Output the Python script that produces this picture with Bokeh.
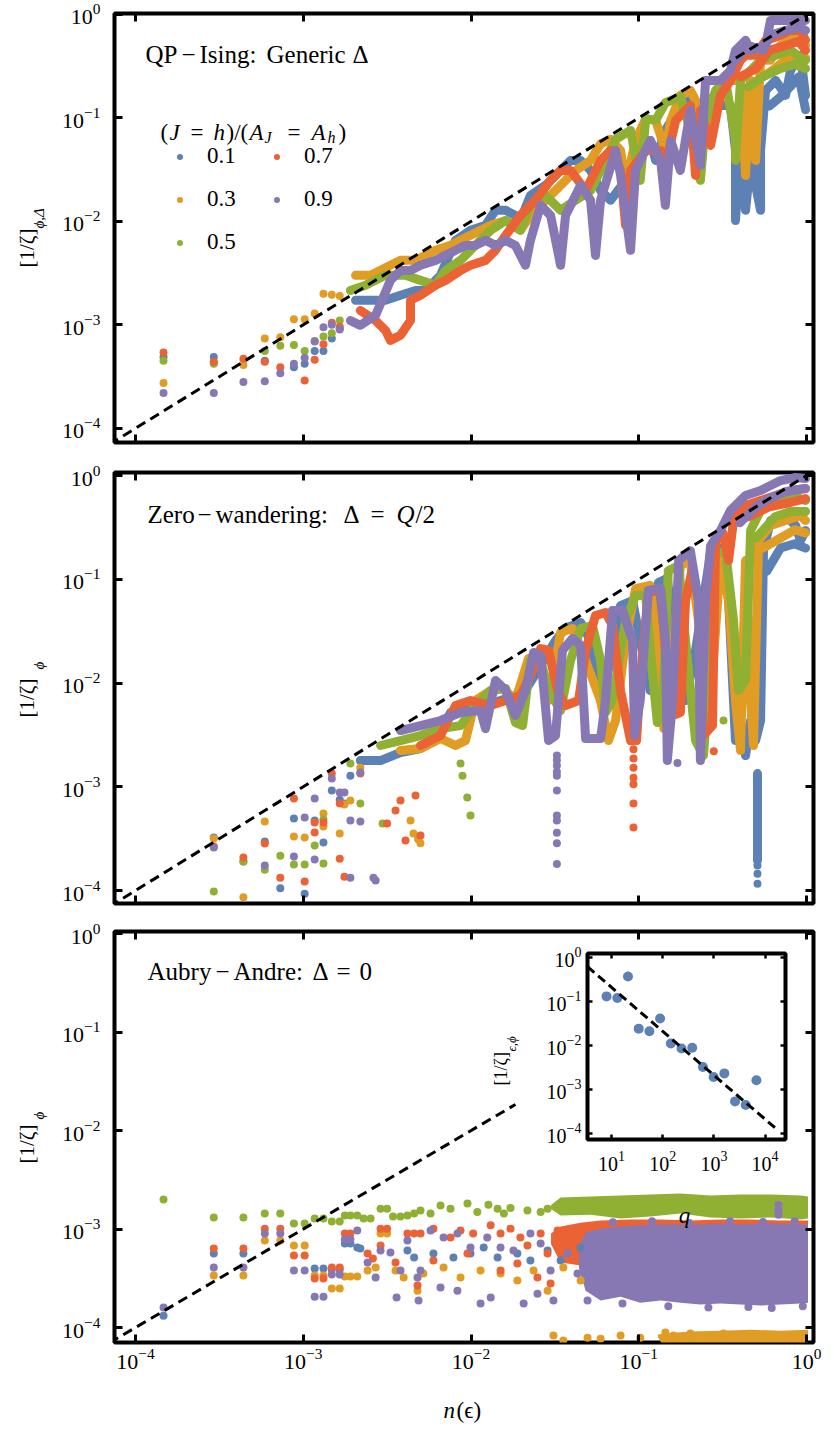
import math
import numpy as np
from bokeh.plotting import figure
from bokeh.layouts import column
from bokeh.models import LogAxis, FixedTicker, Label, Legend, LegendItem, Range1d, CustomJSTickFormatter
from bokeh.embed import file_html
from bokeh.resources import INLINE

NAN = float("nan")
SERIF = "Liberation Serif"

# ------------------------------------------------------------------ data
series_labels = ["0.1", "0.3", "0.5", "0.7", "0.9"]
series_colors = ["#5E81B5", "#E19C24", "#8FB032", "#EB6235", "#8778B3"]
decade_ticks = [1e-4, 1e-3, 1e-2, 1e-1, 1e0]
inset_x_ticks = [1e1, 1e2, 1e3, 1e4]

guide_x = [7.0e-5, 1.0]
guide_y = [7.0e-5, 1.0]
guide3_x = [7.0e-5, 1.84e-2]
guide3_y = [7.0e-5, 1.84e-2]

# ---- panel 1 : QP-Ising generic Delta  (x = n(eps), y = [1/zeta])
p1_blue_dots = [(1.47e-4,4.9e-4),(2.93e-4,4.9e-4),(5.9e-4,4.5e-4),(8.8e-4,3.9e-4),(1.02e-3,4.2e-4),
                (1.17e-3,5.6e-4),(1.32e-3,5.6e-4),(1.48e-3,7.4e-4),(1.65e-3,9.3e-4)]
p1_orange_dots = [(1.47e-4,2.75e-4),(2.93e-4,4.3e-4),(4.4e-4,4.1e-4),(5.9e-4,7.4e-4),(7.3e-4,7.6e-4),
                  (8.8e-4,1.13e-3),(1.02e-3,1.13e-3),(1.17e-3,1.29e-3),(1.32e-3,2.0e-3),(1.48e-3,1.95e-3),(1.65e-3,1.9e-3)]
p1_green_dots = [(1.47e-4,4.5e-4),(2.93e-4,4.2e-4),(5.9e-4,5.6e-4),(7.3e-4,6.3e-4),(8.8e-4,6.4e-4),
                 (1.02e-3,5.6e-4),(1.17e-3,7.0e-4),(1.32e-3,7.7e-4),(1.48e-3,8.3e-4),(1.65e-3,1.1e-3)]
p1_red_dots = [(1.47e-4,5.4e-4),(2.93e-4,4.4e-4),(4.4e-4,4.7e-4),(5.9e-4,4.4e-4),(7.3e-4,3.9e-4),
               (1.02e-3,2.9e-4),(1.17e-3,4.6e-4),(1.32e-3,6.5e-4),(1.48e-3,1.05e-3),(1.65e-3,9.6e-4)]
p1_purple_dots = [(1.47e-4,2.2e-4),(2.93e-4,2.2e-4),(4.4e-4,2.8e-4),(5.9e-4,2.85e-4),(7.3e-4,3.4e-4),
                  (8.8e-4,4.2e-4),(1.02e-3,4.8e-4),(1.17e-3,6.9e-4),(1.32e-3,9.5e-4),(1.48e-3,1.0e-3),(1.65e-3,9.0e-4)]

p1_blue_trace = [(2.05e-3,1.73e-3),(2.52e-3,1.73e-3),(3.09e-3,1.73e-3),(3.8e-3,1.93e-3),(4.67e-3,2.15e-3),
                 (5.36e-3,2.15e-3),(6.58e-3,3.01e-3),(8.09e-3,6.55e-3),(9.93e-3,8.2e-3),(1.22e-2,9.15e-3),
                 (1.40e-2,1.28e-2),(1.61e-2,1.28e-2),(1.84e-2,1.14e-2),(1.97e-2,1.02e-2),(2.26e-2,1.78e-2),
                 (2.78e-2,2.23e-2),(3.42e-2,3.11e-2),(3.92e-2,3.88e-2),(4.5e-2,3.88e-2),(5.16e-2,3.11e-2),
                 (5.92e-2,1.99e-2),(6.79e-2,1.6e-2),(8.34e-2,2.49e-2),(0.102,5.42e-2),(0.117,6.06e-2),
                 (0.126,3.88e-2),(0.144,7.57e-2),(0.177,0.132),(0.203,0.148),(0.233,0.118),(0.287,0.132),
                 (0.352,0.132),(0.377,4.85e-2),(0.377,1.02e-2),(0.404,4.85e-2),(0.433,1.28e-2),(0.464,3.88e-2),
                 (0.532,1.28e-2),(0.532,4.85e-2),(0.570,0.184),(0.654,0.23),(0.750,0.165),(0.803,0.288),
                 (0.921,0.402),(0.986,0.165),
                 (NAN,NAN),(0.6,0.13),(0.7,0.16),(0.8,0.2),(0.9,0.25),(0.986,0.12)]
p1_orange_trace = [(2.05e-3,3.01e-3),(2.52e-3,3.01e-3),(3.31e-3,3.76e-3),(3.8e-3,4.2e-3),(4.67e-3,4.2e-3),
                   (6.14e-3,5.25e-3),(7.55e-3,5.86e-3),(9.93e-3,7.33e-3),(1.31e-2,9.15e-3),(1.61e-2,1.02e-2),
                   (1.97e-2,8.2e-3),(2.26e-2,1.14e-2),(2.78e-2,1.6e-2),(3.42e-2,2.23e-2),(4.2e-2,3.11e-2),
                   (5.16e-2,3.88e-2),(5.92e-2,5.6e-2),(6.79e-2,6.2e-2),(7.79e-2,4.85e-2),(8.34e-2,2.23e-2),
                   (9.57e-2,6.06e-2),(0.110,0.098),(0.126,9.46e-2),(0.144,4.85e-2),(0.155,9.46e-2),
                   (0.177,0.165),(0.203,0.184),(0.218,0.148),(0.250,7.57e-2),(0.268,0.148),(0.307,0.206),
                   (0.352,0.23),(0.404,0.23),(0.433,2.78e-2),(0.464,0.23),(0.497,3.88e-2),(0.532,0.36),
                   (0.610,0.36),(0.700,0.502),(0.803,0.561),(0.921,0.627),(0.986,0.502),
                   (NAN,NAN),(0.55,0.25),(0.65,0.3),(0.8,0.4),(0.986,0.38)]
p1_green_trace = [(1.91e-3,2.15e-3),(2.35e-3,2.41e-3),(3.09e-3,3.01e-3),(4.07e-3,3.01e-3),(5.0e-3,2.69e-3),
                  (6.14e-3,2.41e-3),(7.05e-3,3.36e-3),(8.66e-3,4.2e-3),(1.06e-2,5.86e-3),(1.31e-2,8.2e-3),
                  (1.61e-2,1.02e-2),(1.97e-2,8.2e-3),(2.26e-2,1.43e-2),(2.78e-2,1.78e-2),(3.42e-2,1.28e-2),
                  (4.2e-2,1.6e-2),(5.16e-2,1.99e-2),(5.92e-2,3.11e-2),(7.27e-2,6.2e-2),(8.93e-2,7.57e-2),
                  (0.102,2.49e-2),(0.110,0.098),(0.126,9.46e-2),(0.144,0.14),(0.177,0.16),(0.203,7.57e-2),
                  (0.233,2.49e-2),(0.250,9.46e-2),(0.287,0.184),(0.329,0.23),(0.377,6.06e-2),(0.377,3.88e-2),
                  (0.404,0.23),(0.464,0.288),(0.532,0.36),(0.654,0.402),(0.803,0.449),(0.986,0.36),
                  (NAN,NAN),(0.45,0.2),(0.55,0.25),(0.7,0.3),(0.85,0.33),(0.986,0.3)]
p1_red_trace = [(2.19e-3,1.38e-3),(2.7e-3,1.1e-3),(3.09e-3,8.85e-4),(3.31e-3,7.08e-4),(3.8e-3,7.92e-4),
                (4.36e-3,1.1e-3),(4.36e-3,1.73e-3),(5.0e-3,1.93e-3),(6.14e-3,2.41e-3),(7.05e-3,2.69e-3),
                (8.66e-3,3.36e-3),(9.93e-3,3.76e-3),(1.22e-2,4.2e-3),(1.40e-2,5.25e-3),(1.61e-2,7.33e-3),
                (1.97e-2,1.14e-2),(2.42e-2,1.6e-2),(2.98e-2,2.49e-2),(3.42e-2,3.11e-2),(3.92e-2,3.11e-2),
                (4.82e-2,1.99e-2),(5.92e-2,3.88e-2),(6.79e-2,4.85e-2),(7.79e-2,3.11e-2),(8.34e-2,9.15e-3),
                (8.93e-2,3.11e-2),(0.110,4.85e-2),(0.135,4.85e-2),(0.144,3.48e-2),(0.166,9.46e-2),
                (0.203,0.132),(0.218,2.78e-2),(0.233,0.118),(0.268,5.42e-2),(0.307,0.165),(0.352,0.23),
                (0.404,0.36),(0.433,0.402),(0.497,0.402),(0.570,0.561),(0.700,0.627),(0.803,0.70),
                (0.921,0.70),(0.986,0.561),
                (NAN,NAN),(0.404,0.25),(0.5,0.3),(0.6,0.45),(0.75,0.5),(0.9,0.55),(0.986,0.45)]
p1_purple_trace = [(1.91e-3,1.1e-3),(2.19e-3,9.9e-4),(2.7e-3,1.24e-3),(3.31e-3,2.69e-3),(3.8e-3,3.36e-3),
                   (4.36e-3,3.36e-3),(5.0e-3,3.76e-3),(6.14e-3,4.2e-3),(7.05e-3,4.69e-3),(8.09e-3,5.25e-3),
                   (9.27e-3,5.86e-3),(1.06e-2,5.86e-3),(1.22e-2,6.55e-3),(1.40e-2,5.86e-3),(1.61e-2,6.55e-3),
                   (1.84e-2,5.86e-3),(2.11e-2,3.76e-3),(2.26e-2,6.55e-3),(2.60e-2,1.43e-2),(2.98e-2,1.14e-2),
                   (3.42e-2,3.76e-3),(3.66e-2,1.14e-2),(4.5e-2,2.23e-2),(5.16e-2,1.6e-2),(5.52e-2,4.69e-3),
                   (5.92e-2,1.6e-2),(7.27e-2,4.85e-2),(7.79e-2,2.78e-2),(8.93e-2,5.25e-3),(9.57e-2,3.11e-2),
                   (0.117,6.06e-2),(0.135,3.88e-2),(0.144,1.43e-2),(0.155,6.06e-2),(0.177,3.11e-2),
                   (0.203,0.118),(0.233,3.48e-2),(0.250,0.23),(0.307,0.23),(0.352,0.288),(0.377,0.449),
                   (0.433,0.561),(0.464,0.449),(0.570,0.502),(0.610,0.875),(0.803,0.875),(0.986,0.875),
                   (NAN,NAN),(0.377,0.36),(0.45,0.5),(0.55,0.45),(0.61,0.63),(0.75,0.70),(0.9,0.75),(0.986,0.7)]

# ---- panel 2 : zero-wandering, Delta = Q/2
p2_blue_dots = [(2.93e-4,3.24e-4),(4.4e-4,1.9e-4),(5.9e-4,2.97e-4),(7.3e-4,1.05e-4),(8.8e-4,4.94e-4),
                (1.02e-3,9.3e-5),(1.17e-3,4.73e-4),(1.32e-3,2.9e-4),(1.48e-3,9.2e-4),(1.65e-3,7.5e-4),
                (1.76e-3,6.9e-4),(1.91e-3,1.28e-3),(2.19e-3,1.79e-3),(0.51,1.74e-4),(0.51,1.45e-4),(0.51,1.16e-4)]
p2_orange_dots = [(2.93e-4,3.17e-4),(4.4e-4,8.6e-5),(5.9e-4,4.62e-4),(8.8e-4,3.31e-4),(1.02e-3,3.24e-4),
                  (1.32e-3,5.52e-4),(1.32e-3,4.14e-4),(1.65e-3,3.55e-4),(1.76e-3,6.75e-4),(1.91e-3,7.37e-4),
                  (2.19e-3,1.53e-3),(4.36e-3,4.73e-4),(4.54e-3,3.55e-4),(4.84e-3,3.12e-4),(5.0e-3,2.85e-4)]
p2_green_dots = [(2.93e-4,9.8e-5),(4.4e-4,1.9e-4),(5.9e-4,1.59e-4),(7.3e-4,2.17e-4),(8.8e-4,1.78e-4),
                 (1.02e-3,1.78e-4),(1.17e-3,2.72e-4),(1.32e-3,4.83e-4),(1.32e-3,1.82e-4),(1.91e-3,1.68e-3),
                 (2.19e-3,6.9e-4),(2.97e-3,4.43e-4),(8.66e-3,1.68e-3),(8.9e-3,1.28e-3),(9.5e-3,7.9e-4),
                 (9.93e-3,5.28e-4),(0.233,2.1e-3),(0.32,4.35e-3)]
p2_red_dots = [(2.93e-4,2.66e-4),(4.4e-4,2.08e-4),(5.9e-4,2.84e-4),(7.3e-4,1.33e-4),(8.8e-4,7.7e-4),
               (1.02e-3,1.22e-4),(1.17e-3,4.52e-4),(1.17e-3,3.62e-4),(1.32e-3,4.52e-4),(1.48e-3,1.34e-3),
               (1.65e-3,6.9e-4),(1.65e-3,2.03e-4),(1.76e-3,1.36e-4),(2.19e-3,1.34e-3),(3.16e-3,4.43e-4),
               (3.55e-3,5.9e-4),(4.07e-3,3.03e-4),(5.0e-3,3.39e-4),(3.8e-3,7.37e-4),(4.67e-3,8.24e-4),
               (9.3e-2,2.3e-3),(9.3e-2,1.87e-3),(9.3e-2,1.53e-3),(9.3e-2,1.22e-3),(9.3e-2,1.06e-3),
               (9.3e-2,6.9e-4),(9.3e-2,4.05e-4),(0.28,2.2e-3)]
p2_purple_dots = [(2.93e-4,2.6e-4),(5.9e-4,1.74e-4),(8.8e-4,2.13e-4),(1.02e-3,5.06e-4),(1.17e-3,1.99e-4),
                  (1.17e-3,7.7e-4),(1.48e-3,1.2e-3),(1.65e-3,8.8e-4),(1.76e-3,8.8e-4),(1.91e-3,4.73e-4),
                  (1.91e-3,1.33e-4),(2.19e-3,1.37e-3),(2.19e-3,4.62e-4),(2.62e-3,1.33e-4),(2.7e-3,1.25e-4),
                  (3.25e-2,2.0e-3),(3.25e-2,1.8e-3),(3.25e-2,1.6e-3),(3.25e-2,1.4e-3),(3.25e-2,1.28e-3),
                  (3.25e-2,9.2e-4),(3.25e-2,5.28e-4),(3.25e-2,4.73e-4),(3.25e-2,3.6e-4),(3.25e-2,2.85e-4),
                  (3.25e-2,1.8e-4),(0.17,1.7e-3)]

p2_blue_trace = [(2.19e-3,1.79e-3),(2.89e-3,1.79e-3),(3.8e-3,2.14e-3),(5.0e-3,2.34e-3),(6.14e-3,2.79e-3),
                 (7.55e-3,5.2e-3),(9.27e-3,6.07e-3),(1.22e-2,6.07e-3),(1.5e-2,6.78e-3),(1.84e-2,7.58e-3),
                 (2.11e-2,8.47e-3),(2.6e-2,1.48e-2),(3.19e-2,2.57e-2),(3.66e-2,3.4e-2),(4.5e-2,3.83e-2),
                 (5.16e-2,2.57e-2),(5.92e-2,6.78e-3),(6.79e-2,1.65e-2),(7.79e-2,5.58e-2),(9.18e-2,6.24e-2),
                 (0.102,2.57e-2),(0.117,8.47e-3),(0.131,9.3e-2),(0.148,0.102),(0.166,2.06e-2),(0.190,6.78e-3),
                 (0.218,2.06e-2),(0.268,0.181),(0.307,0.198),(0.343,6.24e-2),(0.377,2.79e-3),(0.404,4.35e-3),
                 (0.433,2.0e-3),(0.464,4.35e-3),(0.497,2.79e-3),(0.532,4.35e-3),(0.554,0.189),(0.61,0.368),
                 (0.75,0.412),(0.86,0.33),(0.921,0.236),(0.986,0.295),(NAN,NAN),(0.51,1.34e-3),(0.51,1.95e-4),
                 (NAN,NAN),(0.58,0.12),(0.7,0.2),(0.85,0.22),(0.986,0.2)]
p2_orange_trace = [(3.8e-3,2.24e-3),(5.0e-3,2.34e-3),(6.58e-3,2.92e-3),(8.09e-3,2.5e-3),(9.27e-3,2.79e-3),
                   (1.06e-2,6.78e-3),(1.31e-2,8.47e-3),(1.5e-2,9.46e-3),(1.84e-2,6.78e-3),(2.2e-2,1.72e-2),
                   (2.53e-2,1.84e-2),(2.9e-2,6.78e-3),(3.42e-2,3.07e-2),(4.03e-2,3.35e-2),(4.82e-2,1.65e-2),
                   (5.92e-2,6.78e-3),(6.6e-2,2.79e-3),(7.27e-2,4.35e-3),(8.34e-2,2.57e-2),(9.57e-2,8.14e-2),
                   (0.117,8.71e-2),(0.129,2.06e-2),(0.141,3.64e-3),(0.155,1.06e-2),(0.177,0.136),(0.203,0.152),
                   (0.227,4.0e-2),(0.268,6.78e-3),(0.307,0.152),(0.343,6.24e-2),(0.377,6.78e-3),(0.404,2.24e-3),
                   (0.433,0.152),(0.464,6.78e-3),(0.483,2.5e-3),(0.518,0.236),(0.61,0.33),(0.75,0.368),
                   (0.921,0.412),(0.986,0.368),
                   (NAN,NAN),(0.55,0.2),(0.7,0.25),(0.85,0.3),(0.986,0.28)]
p2_green_trace = [(2.89e-3,2.5e-3),(3.8e-3,2.79e-3),(5.0e-3,3.12e-3),(6.58e-3,3.64e-3),(8.66e-3,3.89e-3),
                  (1.06e-2,6.07e-3),(1.31e-2,8.47e-3),(1.61e-2,8.85e-3),(1.84e-2,4.16e-3),(2.03e-2,3.89e-3),
                  (2.26e-2,1.65e-2),(2.53e-2,1.97e-2),(2.9e-2,8.47e-3),(3.42e-2,5.43e-3),(3.92e-2,1.65e-2),
                  (4.5e-2,3.35e-2),(5.3e-2,3.58e-2),(5.92e-2,1.65e-2),(6.34e-2,5.2e-3),(6.98e-2,6.78e-3),
                  (8.34e-2,4.0e-2),(9.57e-2,6.97e-2),(0.110,6.97e-2),(0.117,2.06e-2),(0.129,4.16e-3),
                  (0.139,6.78e-3),(0.150,0.121),(0.173,0.136),(0.190,2.57e-2),(0.218,2.79e-3),(0.243,2.0e-3),
                  (0.257,6.78e-3),(0.275,0.169),(0.329,0.189),(0.367,4.0e-2),(0.393,8.47e-3),(0.433,1.06e-2),
                  (0.464,0.295),(0.532,0.46),(0.654,0.574),(0.803,0.642),(0.986,0.574),
                  (NAN,NAN),(0.5,0.25),(0.65,0.4),(0.8,0.45),(0.986,0.45)]
p2_red_trace = [(5.0e-3,2.5e-3),(6.58e-3,3.12e-3),(8.09e-3,6.07e-3),(9.93e-3,6.78e-3),(1.31e-2,6.07e-3),
                (1.61e-2,6.78e-3),(1.97e-2,7.58e-3),(2.26e-2,1.18e-2),(2.6e-2,2.15e-2),(2.9e-2,2.06e-2),
                (3.28e-2,8.47e-3),(3.66e-2,6.07e-3),(4.38e-2,6.78e-3),(4.82e-2,2.06e-2),(5.52e-2,4.48e-2),
                (6.34e-2,4.78e-2),(6.98e-2,3.58e-2),(7.79e-2,8.47e-3),(8.93e-2,2.79e-3),(9.7e-2,2.79e-3),
                (0.102,1.06e-2),(0.114,7.45e-2),(0.135,7.8e-2),(0.144,2.06e-2),(0.159,4.86e-3),(0.177,5.2e-3),
                (0.190,6.24e-2),(0.209,0.127),(0.227,6.24e-2),(0.243,3.12e-3),(0.275,3.89e-3),(0.287,0.236),
                (0.316,0.282),(0.343,0.152),(0.367,0.368),(0.433,0.514),(0.532,0.574),(0.654,0.642),
                (0.803,0.717),(0.986,0.75),
                (NAN,NAN),(0.45,0.4),(0.6,0.5),(0.8,0.55),(0.986,0.6)]
p2_purple_trace = [(3.8e-3,3.48e-3),(5.0e-3,3.89e-3),(6.58e-3,4.35e-3),(8.66e-3,5.2e-3),(1.14e-2,5.43e-3),
                   (1.22e-2,3.64e-3),(1.40e-2,1.06e-2),(1.61e-2,8.47e-3),(1.84e-2,4.86e-3),(2.11e-2,8.47e-3),
                   (2.36e-2,1.97e-2),(2.6e-2,1.84e-2),(2.9e-2,2.79e-3),(3.19e-2,3.12e-3),(3.51e-2,2.06e-2),
                   (4.03e-2,2.69e-2),(4.5e-2,2.3e-2),(4.82e-2,2.92e-3),(5.92e-2,2.92e-3),(6.34e-2,6.78e-3),
                   (6.98e-2,5.0e-2),(8.0e-2,5.0e-2),(9.18e-2,2.57e-2),(9.44e-2,3.12e-3),(0.102,6.78e-3),
                   (0.114,7.8e-2),(0.135,8.14e-2),(0.144,2.57e-2),(0.148,1.79e-3),(0.159,6.78e-3),(0.173,0.152),
                   (0.203,0.189),(0.227,6.24e-2),(0.233,1.79e-3),(0.25,6.24e-2),(0.268,0.211),(0.307,0.295),
                   (0.352,0.46),(0.433,0.642),(0.532,0.717),(0.610,0.801),(0.70,0.895),(0.86,0.957),(0.986,0.936),
                   (NAN,NAN),(0.4,0.35),(0.5,0.5),(0.6,0.6),(0.75,0.7),(0.986,0.75)]

# ---- panel 3 : Aubry-Andre, Delta = 0
p3_blue_dots = [(1.47e-4,1.32e-4),(2.93e-4,5.64e-4),(4.4e-4,5.64e-4),(1.17e-3,3.97e-4),(1.32e-3,3.97e-4),
                (1.48e-3,3.88e-4),(1.65e-3,3.88e-4),(1.77e-3,7.13e-4),(1.91e-3,7.13e-4),(2.1e-3,6.49e-4),
                (2.19e-3,6.34e-4),(4.18e-3,6.05e-4),(4.58e-3,5.14e-4),(5.97e-3,5.64e-4),(7.86e-3,5.14e-4),
                (9.93e-3,5.64e-4),(1.19e-2,6.49e-4),(1.44e-2,5.14e-4),(1.89e-2,5.64e-4),(2.26e-2,4.79e-4),
                (2.86e-2,6.05e-4),(3.42e-2,4.79e-4),(4.5e-2,6.49e-4)]
p3_orange_dots = [(2.93e-4,3.37e-4),(4.4e-4,3.37e-4),(5.9e-4,7.64e-4),(7.3e-4,7.64e-4),(8.8e-4,6.8e-4),
                  (1.02e-3,6.8e-4),(1.17e-3,3.37e-4),(1.32e-3,3.37e-4),(1.48e-3,2.49e-4),(1.65e-3,2.49e-4),
                  (1.77e-3,3.3e-4),(1.91e-3,3.3e-4),(2.1e-3,3.3e-4),(2.42e-3,3.79e-4),(2.7e-3,4.07e-4),
                  (2.89e-3,9.0e-4),(3.16e-3,9.0e-4),(3.55e-3,3.79e-4),(3.97e-3,3.22e-4),(4.8e-3,2.37e-4),
                  (5.2e-3,3.53e-4),(6.86e-3,4.07e-4),(8.66e-3,3.22e-4),(1.14e-2,3.79e-4),(1.5e-2,3.53e-4),
                  (1.89e-2,3.0e-4),(2.36e-2,3.79e-4),(2.86e-2,2.37e-4),(3.55e-2,4.07e-4),(4.5e-2,3.0e-4),
                  (3.1e-2,8.3e-5),(3.55e-2,7.4e-5),(4.95e-2,7.9e-5),(5.92e-2,7.7e-5),(7.79e-2,8.3e-5),
                  (0.102,7.9e-5),(0.144,8.9e-5),(0.161,8.3e-5),(0.203,8.7e-5),(0.268,8.3e-5),(0.32,8.7e-5)]
p3_green_dots = [(1.47e-4,2.0e-3),(2.93e-4,1.31e-3),(4.4e-4,1.31e-3),(5.9e-4,1.44e-3),(7.3e-4,1.44e-3),
                 (8.8e-4,1.14e-3),(1.02e-3,1.14e-3),(1.17e-3,1.28e-3),(1.32e-3,1.28e-3),(1.48e-3,1.19e-3),
                 (1.65e-3,1.19e-3),(1.77e-3,1.37e-3),(1.91e-3,1.37e-3),(2.1e-3,1.37e-3),(2.29e-3,1.28e-3),
                 (2.52e-3,1.28e-3),(2.89e-3,1.61e-3),(3.16e-3,1.61e-3),(3.43e-3,1.34e-3),(3.8e-3,1.34e-3),
                 (4.18e-3,1.37e-3),(4.58e-3,1.44e-3),(5.0e-3,1.54e-3),(5.74e-3,1.44e-3),(6.58e-3,1.73e-3),
                 (7.55e-3,1.61e-3),(9.53e-3,1.82e-3),(1.09e-2,1.49e-3),(1.27e-2,1.77e-3),(1.44e-2,1.61e-3),
                 (1.57e-2,1.44e-3),(1.72e-2,1.64e-3),(2.17e-2,1.54e-3),(2.6e-2,1.49e-3),(2.86e-2,1.61e-3)]
p3_red_dots = [(2.93e-4,6.34e-4),(4.4e-4,6.34e-4),(5.9e-4,1.01e-3),(7.3e-4,1.01e-3),(8.8e-4,5.38e-4),
               (1.02e-3,5.38e-4),(1.17e-3,3.14e-4),(1.32e-3,3.14e-4),(1.48e-3,4.07e-4),(1.65e-3,4.07e-4),
               (1.77e-3,9.0e-4),(1.91e-3,9.0e-4),(2.42e-3,5.64e-4),(2.6e-3,5.02e-4),(2.89e-3,1.01e-3),
               (3.16e-3,1.01e-3),(2.89e-3,6.8e-4),(3.55e-3,4.57e-4),(4.18e-3,9.0e-4),(4.58e-3,9.0e-4),
               (4.8e-3,2.67e-4),(5.0e-3,9.0e-4),(5.97e-3,1.01e-3),(7.55e-3,8.2e-4),(8.66e-3,9.66e-4),
               (1.03e-2,9.0e-4),(1.31e-2,1.09e-3),(1.5e-2,9.0e-4),(1.72e-2,1.01e-3),(1.97e-2,8.2e-4),
               (2.17e-2,6.8e-4),(2.6e-2,9.0e-4),(2.86e-2,5.64e-4),(5.97e-3,4.79e-4),(9.53e-3,5.64e-4),
               (1.5e-2,3.79e-4),(1.89e-2,4.47e-4),(2.49e-2,3.22e-4),(2.98e-2,2.8e-4),(3.28e-2,9.66e-4),
               (4.08e-2,8.2e-4)]
p3_purple_dots = [(1.47e-4,1.6e-4),(2.93e-4,4.07e-4),(4.4e-4,4.07e-4),(5.9e-4,9.0e-4),(7.3e-4,9.0e-4),
                  (8.8e-4,3.79e-4),(1.02e-3,3.79e-4),(1.17e-3,2.06e-4),(1.32e-3,2.06e-4),(1.48e-3,3.45e-4),
                  (1.65e-3,3.45e-4),(1.77e-3,7.9e-4),(1.91e-3,7.9e-4),(2.1e-3,9.66e-4),(2.42e-3,4.57e-4),
                  (2.7e-3,3.22e-4),(2.89e-3,6.05e-4),(3.31e-3,5.77e-4),(3.6e-3,2.02e-4),(3.8e-3,3.79e-4),
                  (4.18e-3,7.64e-4),(4.8e-3,3.22e-4),(4.87e-3,1.88e-4),(5.74e-3,9.66e-4),(6.86e-3,8.2e-4),
                  (8.3e-3,9.0e-4),(9.93e-3,6.49e-4),(1.25e-2,8.2e-4),(1.5e-2,6.49e-4),(1.79e-2,6.05e-4),
                  (2.26e-2,9.0e-4),(2.6e-2,7.13e-4),(5.0e-3,3.79e-4),(6.58e-3,2.55e-4),(8.3e-3,2.37e-4),
                  (1.14e-2,1.75e-4),(1.31e-2,2.02e-4),(2.06e-2,1.75e-4),(2.49e-2,2.21e-4),(2.98e-2,3.79e-4),
                  (3.1e-2,1.88e-4),(3.76e-2,5.64e-4),(4.31e-2,3.53e-4),(4.95e-2,1.88e-4),
                  (0.68,1.75e-3),(0.68,1.55e-3),(0.68,1.4e-3),
                  (0.07,1.17e-3),(0.12,1.2e-3),(0.2,1.15e-3),(0.35,1.2e-3),(0.55,1.18e-3),(0.85,1.2e-3),
                  (0.08,1.75e-4),(0.15,1.65e-4),(0.26,1.6e-4),(0.45,1.62e-4),(0.62,1.58e-4),(0.95,1.65e-4)]

# dense clouds of panel 3: (x, lower edge, upper edge)
p3_green_band = [(3.0e-2,1.6e-3,1.75e-3),(3.42e-2,1.37e-3,2.09e-3),(5.16e-2,1.40e-3,2.14e-3),
                 (7.79e-2,1.28e-3,2.19e-3),(0.117,1.34e-3,2.24e-3),(0.177,1.44e-3,2.29e-3),
                 (0.268,1.31e-3,2.19e-3),(0.404,1.28e-3,2.24e-3),(0.610,1.31e-3,2.24e-3),
                 (0.921,1.25e-3,2.19e-3),(1.02,1.28e-3,2.14e-3)]
p3_orange_band = [(0.13,8.0e-5,8.5e-5),(0.144,6.0e-5,8.7e-5),(0.203,6.0e-5,9.1e-5),(0.307,6.0e-5,9.3e-5),
                  (0.464,6.0e-5,9.5e-5),(0.70,6.0e-5,9.3e-5),(1.02,6.0e-5,9.5e-5)]
p3_red_band = [(3.0e-2,7.0e-4,9.0e-4),(3.42e-2,4.57e-4,1.06e-3),(4.5e-2,4.26e-4,1.16e-3),(5.92e-2,3.97e-4,1.22e-3),
               (8.93e-2,3.79e-4,1.25e-3),(0.135,3.61e-4,1.25e-3),(0.203,3.79e-4,1.22e-3),(0.307,3.97e-4,1.25e-3),
               (0.464,3.79e-4,1.25e-3),(0.70,3.61e-4,1.22e-3),(1.02,3.79e-4,1.22e-3)]
p3_purple_band = [(4.4e-2,4.0e-4,6.5e-4),(4.82e-2,2.37e-4,9.2e-4),(5.92e-2,1.88e-4,1.01e-3),
                  (7.79e-2,2.06e-4,1.06e-3),(0.102,1.79e-4,1.09e-3),(0.135,1.88e-4,1.11e-3),
                  (0.177,1.79e-4,1.11e-3),(0.233,1.71e-4,1.11e-3),(0.307,1.75e-4,1.14e-3),
                  (0.404,1.71e-4,1.11e-3),(0.532,1.67e-4,1.14e-3),(0.70,1.71e-4,1.14e-3),
                  (0.921,1.75e-4,1.11e-3),(1.02,1.79e-4,1.11e-3)]

# ---- inset : [1/zeta]_{eps,phi} versus q
inset_q = [8, 13, 21, 34, 55, 89, 144, 233, 377, 610, 987, 1597, 2584, 4181, 6765]
inset_inv_zeta = [0.13, 0.12, 0.37, 0.024, 0.021, 0.041, 0.011, 0.0085, 0.0088, 0.0032,
                  0.0019, 0.0023, 0.00053, 0.00044, 0.0016]
inset_fit_q = [3.4, 1.75e4]
inset_fit_y = [0.615, 1.19e-4]


# ------------------------------------------------------------------ helpers
def cols(pairs):
    a = np.array(pairs, dtype=float)
    return a[:, 0], a[:, 1]


BLANK = CustomJSTickFormatter(code="return ''")


def style_axis(ax, ticks, show_labels, tick_len=8, width=3, font="22px", standoff=12):
    ax.ticker = FixedTicker(ticks=ticks)
    ax.axis_line_color = None
    ax.major_tick_in = tick_len
    ax.major_tick_out = 0
    ax.major_tick_line_width = width
    ax.major_tick_line_color = "black"
    ax.minor_tick_line_color = None
    ax.major_label_text_font = SERIF
    ax.major_label_text_color = "black"
    if show_labels:
        ax.major_label_text_font_size = font
        ax.major_label_standoff = standoff
    else:
        ax.formatter = BLANK
        ax.major_label_text_font_size = "2px"
        ax.major_label_standoff = 0


def make_panel(height, b_top, b_bottom, yr, show_x):
    p = figure(width=834, height=height, x_axis_type="log", y_axis_type="log",
               x_range=Range1d(7.5e-5, 1.1), y_range=Range1d(*yr),
               min_border_left=114, min_border_right=21,
               min_border_top=b_top, min_border_bottom=b_bottom,
               output_backend="svg", toolbar_location=None)
    p.grid.visible = False
    p.outline_line_color = "black"
    p.outline_line_width = 4
    p.background_fill_color = "white"
    p.border_fill_color = "white"
    p.add_layout(LogAxis(), "right")
    p.add_layout(LogAxis(), "above")
    style_axis(p.left[0], decade_ticks, True, standoff=14)
    style_axis(p.right[0], decade_ticks, False)
    style_axis(p.above[0], decade_ticks, False)
    style_axis(p.below[0], decade_ticks, show_x, standoff=6)
    return p


def draw_series(p, dots_list, trace_list):
    rends = []
    for color, dots, trace in zip(series_colors, dots_list, trace_list):
        if trace is not None:
            tx, ty = cols(trace)
            p.line(tx, ty, line_width=9, line_color=color, line_cap="round", line_join="round")
        dx, dy = cols(dots)
        rends.append(p.scatter(dx, dy, size=8, fill_color=color, line_color=None))
    return rends


# ------------------------------------------------------------------ panel 1
p1 = make_panel(457, 13, 15, (7.3e-5, 1.02), False)
r1 = draw_series(p1, [p1_blue_dots, p1_orange_dots, p1_green_dots, p1_red_dots, p1_purple_dots],
                 [p1_blue_trace, p1_orange_trace, p1_green_trace, p1_red_trace, p1_purple_trace])
p1.line(guide_x, guide_y, line_color="black", line_width=3, line_dash="10 6")
legend = Legend(items=[LegendItem(label=l, renderers=[r]) for l, r in zip(series_labels, r1)],
                location=(58, 187), nrows=3, glyph_width=15, glyph_height=15, label_height=26,
                label_standoff=20, label_width=45, spacing=17, padding=0, margin=0,
                border_line_color=None, background_fill_alpha=0,
                label_text_font=SERIF, label_text_font_size="23px", label_text_color="black")
p1.add_layout(legend)

# ------------------------------------------------------------------ panel 2
p2 = make_panel(460, 15, 14, (7.5e-5, 1.07), False)
draw_series(p2, [p2_blue_dots, p2_orange_dots, p2_green_dots, p2_red_dots, p2_purple_dots],
            [p2_blue_trace, p2_orange_trace, p2_green_trace, p2_red_trace, p2_purple_trace])
p2.line(guide_x, guide_y, line_color="black", line_width=3, line_dash="10 6")

# ------------------------------------------------------------------ panel 3
p3 = make_panel(533, 14, 108, (7.05e-5, 1.05), True)
for color, band in zip(series_colors, [None, p3_orange_band, p3_green_band, p3_red_band, p3_purple_band]):
    if band is None:
        continue
    b = np.array(band, dtype=float)
    p3.varea(x=b[:, 0], y1=b[:, 1], y2=b[:, 2], fill_color=color, fill_alpha=1.0)
draw_series(p3, [p3_blue_dots, p3_orange_dots, p3_green_dots, p3_red_dots, p3_purple_dots],
            [None] * 5)
p3.line(guide3_x, guide3_y, line_color="black", line_width=3, line_dash="10 6")

# ------------------------------------------------------------------ inset
inset = figure(width=320, height=240, x_axis_type="log", y_axis_type="log",
               x_range=Range1d(3.4, 2.5e4), y_range=Range1d(7.2e-5, 1.23),
               min_border_left=107, min_border_right=15, min_border_top=13, min_border_bottom=41,
               output_backend="svg", toolbar_location=None,
               styles={"position": "absolute", "left": "480px", "top": "940px", "z-index": "5"})
inset.grid.visible = False
inset.outline_line_color = "black"
inset.outline_line_width = 4
inset.background_fill_color = "white"
inset.border_fill_color = None
inset.add_layout(LogAxis(), "right")
inset.add_layout(LogAxis(), "above")
style_axis(inset.left[0], decade_ticks, True, tick_len=5, width=2.5, font="20px", standoff=6)
style_axis(inset.right[0], decade_ticks, False, tick_len=5, width=2.5)
style_axis(inset.below[0], inset_x_ticks, True, tick_len=5, width=2.5, font="20px", standoff=11)
style_axis(inset.above[0], inset_x_ticks, False, tick_len=5, width=2.5)
inset.scatter(inset_q, inset_inv_zeta, size=10, fill_color=series_colors[0], line_color=None)
inset.line(inset_fit_q, inset_fit_y, line_color="black", line_width=3, line_dash="9 5")

# ------------------------------------------------------------------ text layer (page pixel coordinates)
ov = figure(width=834, height=1450, x_range=Range1d(0, 834), y_range=Range1d(1450, 0),
            min_border=0, x_axis_location=None, y_axis_location=None,
            output_backend="svg", toolbar_location=None,
            styles={"position": "absolute", "left": "0px", "top": "0px", "z-index": "10"})
ov.grid.visible = False
ov.outline_line_color = None
ov.background_fill_color = None
ov.border_fill_color = None


def txt(x, y, text, size, style="normal", angle=0.0, align="left", baseline="alphabetic"):
    ov.add_layout(Label(x=x, y=y, text=text, text_font=SERIF, text_font_size=f"{size}px",
                        text_font_style=style, text_color="black", angle=angle,
                        text_align=align, text_baseline=baseline))


ROT = math.pi / 2
# panel titles (pieces placed as in the reference, which spaces operators widely)
for t, x, sty in [("QP", 145, "normal"), ("\u2212", 181, "normal"), ("Ising:", 199, "normal"),
                  ("Generic", 266, "normal"), ("\u0394", 352, "normal")]:
    txt(x, 54, t, 25, style=sty)
for t, x, sty in [("Zero", 147, "normal"), ("\u2212", 197, "normal"), ("wandering:", 215, "normal"),
                  ("\u0394", 343, "normal"), ("=", 370, "normal"), ("Q", 396, "italic"), ("/2", 415, "normal")]:
    txt(x, 514, t, 25, style=sty)
for t, x, sty in [("Aubry", 147, "normal"), ("\u2212", 215, "normal"), ("Andre:", 233, "normal"),
                  ("\u0394", 312, "normal"), ("=", 336, "normal"), ("0", 359, "normal")]:
    txt(x, 971, t, 25, style=sty)
# legend title (J = h)/(A_J = A_h)
for t, x, sty, sz, dy in [("(", 160, "normal", 23, 0), ("J", 169, "italic", 23, 0),
                          ("=", 190, "normal", 23, 0), ("h", 213, "italic", 23, 0),
                          (")/(", 226, "normal", 23, 0), ("A", 249, "italic", 23, 0),
                          ("J", 264, "italic", 16, 5), ("=", 287, "normal", 23, 0),
                          ("A", 311, "italic", 23, 0), ("h", 327, "italic", 16, 5),
                          (")", 338, "normal", 23, 0)]:
    txt(x, 132 + dy, t, sz, style=sty)
# y-axis labels
for y_main, y_sub, sub in [(267, 228, "\u03d5,\u0394"), (717, 669, "\u03d5"), (1163, 1119, "\u03d5")]:
    txt(26, y_main, "[1/\u03b6]", 21, angle=ROT, baseline="middle")
    txt(38, y_sub, sub, 15, style="italic", angle=ROT, baseline="middle")
# x-axis label
txt(443, 1410, "n", 23, style="italic")
txt(456, 1410, "(\u03f5)", 23)
# inset labels
txt(500, 1085, "[1/\u03b6]", 18, angle=ROT, baseline="middle")
txt(511, 1051, "\u03f5,\u03d5", 13, style="italic", angle=ROT, baseline="middle")
txt(684, 1215, "q", 23, style="italic", align="center")

layout = column(p1, p2, p3, spacing=0)
open("out.html", "w").write(file_html([layout, inset, ov], INLINE))
